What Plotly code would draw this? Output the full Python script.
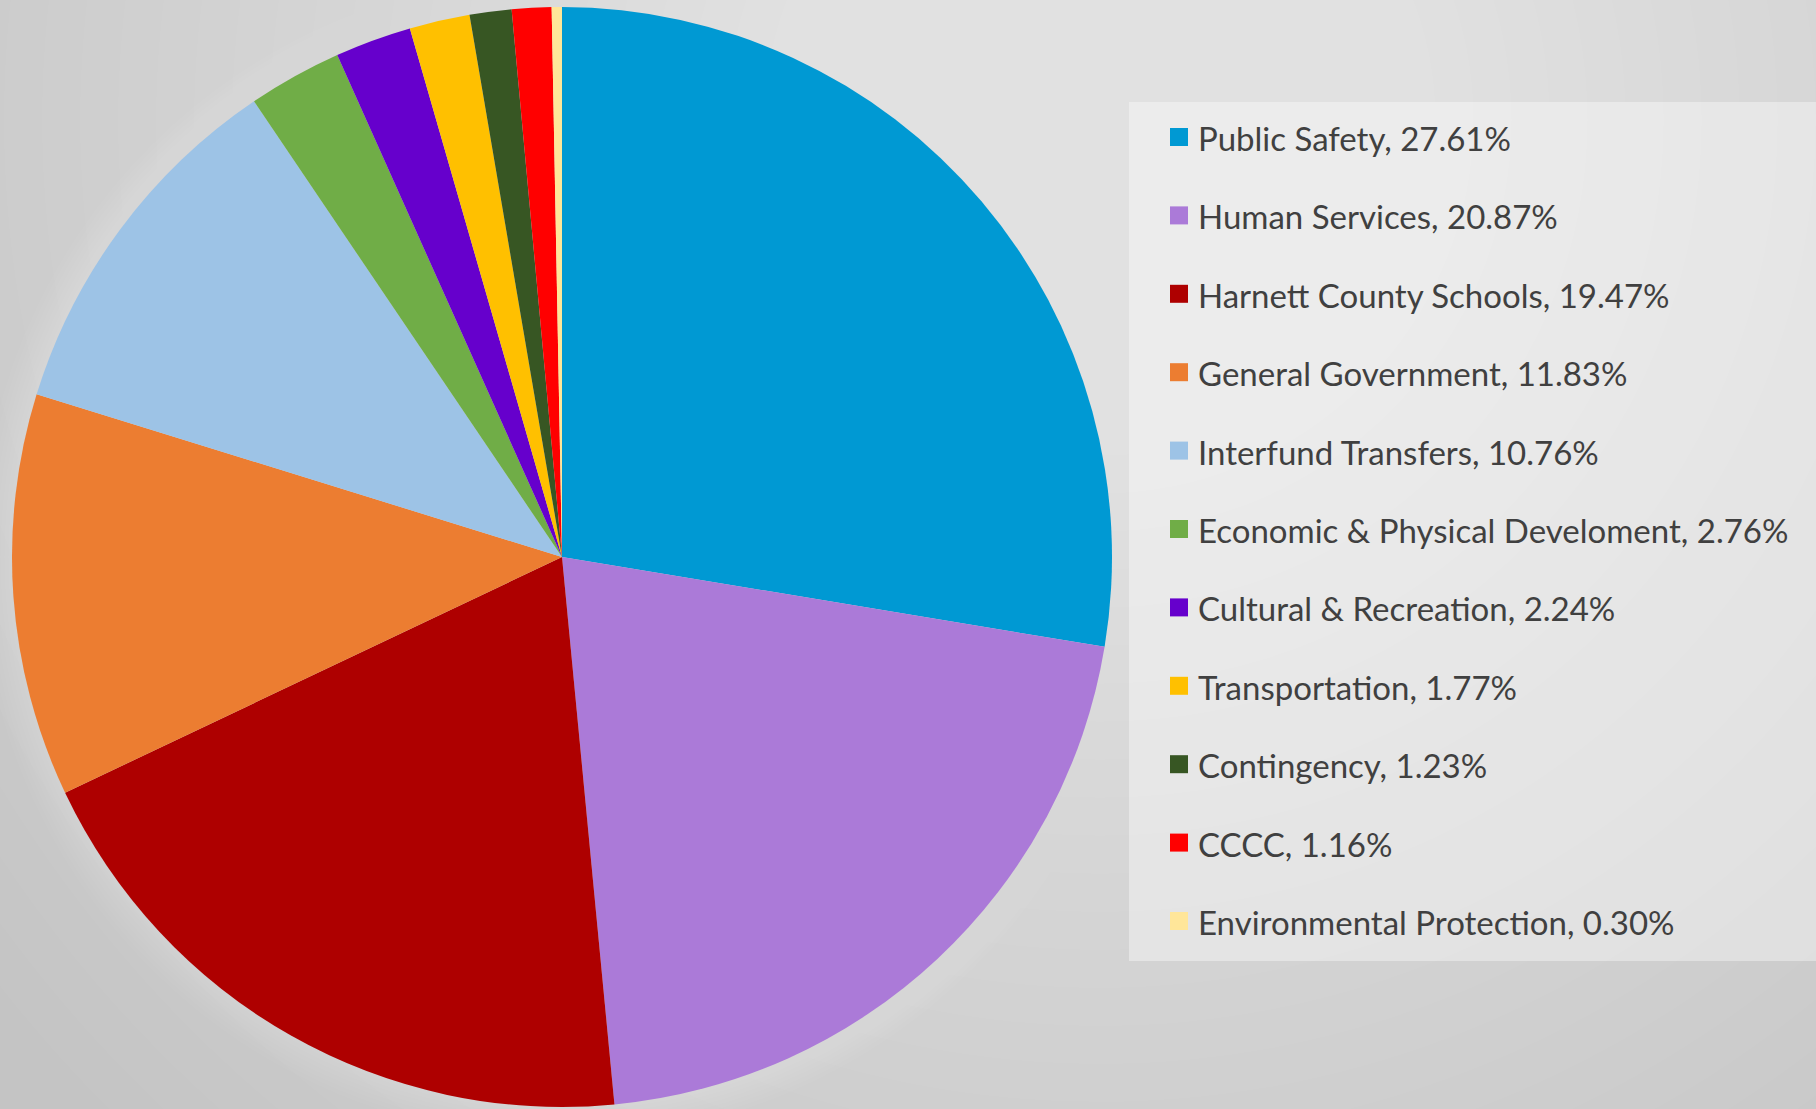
import plotly.graph_objects as go

# ---- data ----
categories = [
    "Public Safety",
    "Human Services",
    "Harnett County Schools",
    "General Government",
    "Interfund Transfers",
    "Economic & Physical Develoment",
    "Cultural & Recreation",
    "Transportation",
    "Contingency",
    "CCCC",
    "Environmental Protection",
]
shares = [27.61, 20.87, 19.47, 11.83, 10.76, 2.76, 2.24, 1.77, 1.23, 1.16, 0.30]
colors = [
    "#0099D3", "#AB7AD8", "#AE0000", "#EC7D31", "#9DC3E6", "#70AD47",
    "#6600CC", "#FFC000", "#375623", "#FF0000", "#FFE699",
]

W, H = 1816, 1109

def px_x(x):
    return x / W

def px_y(y):
    return 1 - y / H

# pie geometry (pixels)
cx, cy, R = 562, 557, 550

fig = go.Figure(
    go.Pie(
        labels=categories,
        values=shares,
        marker=dict(colors=colors, line=dict(width=0)),
        sort=False,
        direction="clockwise",
        rotation=0,
        textinfo="none",
        hoverinfo="label+percent",
        showlegend=False,
        domain=dict(x=[px_x(cx - R), px_x(cx + R)], y=[px_y(cy + R), px_y(cy - R)]),
    )
)

shapes = []
# background radial gradient (light centre top-right)
gcx, gcy = 1100, 120
n = 34
for i in range(n):
    r = 1400 - i * 38
    shapes.append(dict(
        type="circle", xref="paper", yref="paper", layer="below",
        x0=px_x(gcx - r), x1=px_x(gcx + r), y0=px_y(gcy + r), y1=px_y(gcy - r),
        fillcolor="rgba(255,255,255,0.032)", line=dict(width=0),
    ))
# soft glow around the pie
for i in range(8):
    r = R + 32 - i * 4
    shapes.append(dict(
        type="circle", xref="paper", yref="paper", layer="below",
        x0=px_x(cx - r), x1=px_x(cx + r), y0=px_y(cy + r), y1=px_y(cy - r),
        fillcolor="rgba(255,255,255,0.025)", line=dict(width=0),
    ))

# legend panel
shapes.append(dict(
    type="rect", xref="paper", yref="paper", layer="below",
    x0=px_x(1129), x1=px_x(1830), y0=px_y(961), y1=px_y(102),
    fillcolor="rgba(255,255,255,0.38)", line=dict(width=0),
))

annotations = []
row0, step = 137, 78.4
for i, (lab, val, col) in enumerate(zip(categories, shares, colors)):
    yc = row0 + step * i
    shapes.append(dict(
        type="rect", xref="paper", yref="paper", layer="above",
        x0=px_x(1170), x1=px_x(1188), y0=px_y(yc + 9), y1=px_y(yc - 9),
        fillcolor=col, line=dict(width=0),
    ))
    annotations.append(dict(
        xref="paper", yref="paper", x=px_x(1196), y=px_y(yc + 1),
        xanchor="left", yanchor="middle", showarrow=False,
        text=f"{lab}, {val:.2f}%",
        font=dict(family="Lato", size=33, color="#404040"),
    ))

fig.update_layout(
    width=W, height=H,
    margin=dict(l=0, r=0, t=0, b=0),
    paper_bgcolor="#c4c4c4",
    plot_bgcolor="#c4c4c4",
    shapes=shapes,
    annotations=annotations,
)

fig.write_html("out.html")
